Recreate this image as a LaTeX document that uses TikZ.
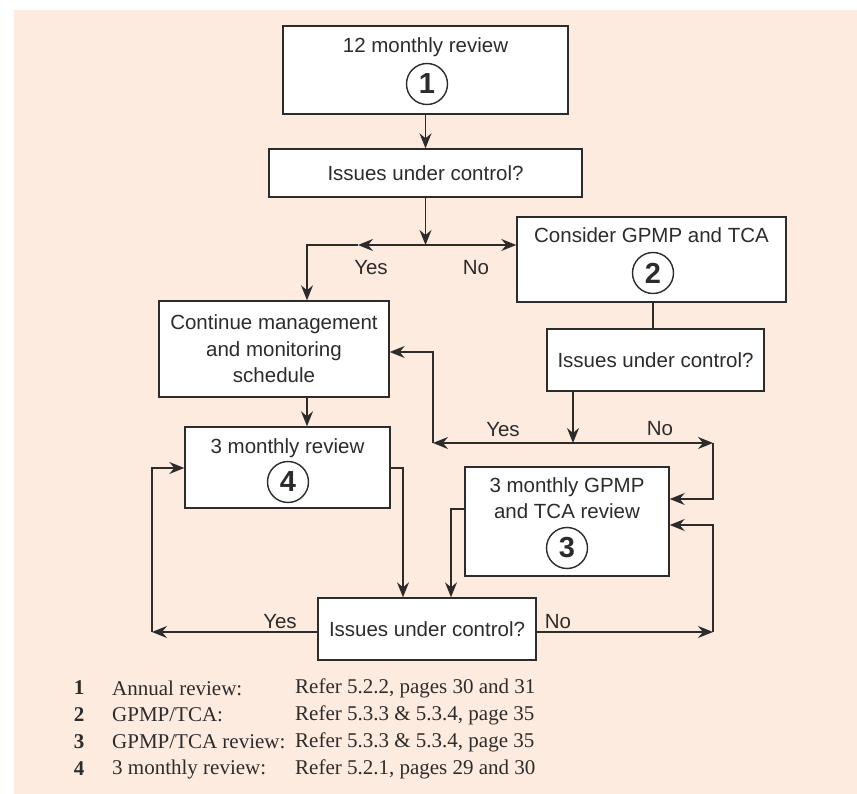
\documentclass[tikz,border=0pt]{standalone}
\usepackage{fontspec}
\setmainfont{Liberation Serif}
\setsansfont{Liberation Sans}
\usetikzlibrary{arrows.meta}
\definecolor{peach}{HTML}{FDEBDF}
\definecolor{ink}{HTML}{2E2B2B}

\begin{document}
\begin{tikzpicture}[x=1pt, y=-1pt,
    box/.style={draw=ink, fill=white, line width=1.4pt, inner sep=0pt},
    txt/.style={text=ink, align=center, inner sep=0pt, font=\sffamily\fontsize{20.5}{26.5}\selectfont},
    num/.style={circle, draw=ink, line width=1.4pt, minimum size=41pt, inner sep=0pt, text=ink, font=\sffamily\bfseries\fontsize{29}{29}\selectfont},
    arr/.style={draw=ink, line width=1.4pt, -{Stealth[length=15pt, width=12pt, inset=5pt]}},
    wire/.style={draw=ink, line width=1.4pt}]

    \useasboundingbox (0,0) rectangle (857,794);
    \fill[peach] (14,10) rectangle (857,794);

    % boxes
    \node[box, minimum width=285pt, minimum height=88pt] (rev12) at (425.5,70) {};
    \node[txt] (rev12t) at (425.5,47) {12 monthly review};
    \node[num] (n1) at (427,84) {1};

    \node[box, txt, minimum width=313pt, minimum height=48pt] (q1) at (425.5,173) {Issues under control?};

    \node[box, minimum width=269pt, minimum height=85pt] (plan) at (651.5,259.5) {};
    \node[txt] (plant) at (651.5,235) {Consider GPMP and TCA};
    \node[num] (n2) at (653,273) {2};

    \node[box, txt, minimum width=217pt, minimum height=62pt] (q2) at (655.5,360) {Issues under control?};

    \node[box, txt, minimum width=230pt, minimum height=96pt] (cont) at (274,349) {Continue management\\and monitoring\\schedule};

    \node[box, minimum width=205pt, minimum height=81pt] (rev3) at (287.5,467.5) {};
    \node[txt] (rev3t) at (287.5,448) {3 monthly review};
    \node[num] (n4) at (288,482) {4};

    \node[box, minimum width=204pt, minimum height=109pt] (planrev) at (567,521.5) {};
    \node[txt] (planrevt) at (567,498) {3 monthly GPMP\\and TCA review};
    \node[num] (n3) at (567,548) {3};

    \node[box, txt, minimum width=218pt, minimum height=62pt] (q3) at (427,629) {Issues under control?};

    % turning points
    \coordinate (j1) at (425.5,245);
    \coordinate (m1) at (358,245);
    \coordinate (c1) at (307,245);
    \coordinate (p2) at (653,300);
    \coordinate (j2) at (573,443);
    \coordinate (y2) at (433,443);
    \coordinate (y2t) at (433,352);
    \coordinate (n2b) at (713,443);
    \coordinate (n2t) at (713,499);
    \coordinate (r4) at (403,468);
    \coordinate (l3) at (451,509);
    \coordinate (yl) at (152,632);
    \coordinate (yl2) at (152,468);
    \coordinate (nl) at (713,632);
    \coordinate (nl2) at (713,525);

    % connectors
    \draw[arr] (rev12) -- (q1);
    \draw[arr] (q1.south) -- (j1);
    \draw[arr] (j1) -- (j1 -| plan.west);
    \draw[arr] (j1) -- (m1);
    \draw[arr] (m1) -- (c1) -- (c1 |- cont.north);
    \draw[wire] (p2 |- plan.south) -- (p2 |- q2.north);
    \draw[arr] (j2 |- q2.south) -- (j2);
    \draw[arr] (j2) -- (y2);
    \draw[arr] (y2) -- (y2t) -- (y2t -| cont.east);
    \draw[arr] (j2) -- (n2b);
    \draw[arr] (n2b) -- (n2t) -- (n2t -| planrev.east);
    \draw[arr] (c1 |- cont.south) -- (c1 |- rev3.north);
    \draw[arr] (r4 -| rev3.east) -- (r4) -- (r4 |- q3.north);
    \draw[arr] (l3 -| planrev.west) -- (l3) -- (l3 |- q3.north);
    \draw[arr] (yl -| q3.west) -- (yl);
    \draw[arr] (yl) -- (yl2) -- (yl2 -| rev3.west);
    \draw[arr] (nl -| q3.east) -- (nl);
    \draw[arr] (nl) -- (nl2) -- (nl2 -| planrev.east);

    % labels
    \node[txt] (yes1) at (371,268) {Yes};
    \node[txt] (no1) at (476,268) {No};
    \node[txt] (yes2) at (503,430) {Yes};
    \node[txt] (no2) at (660,429) {No};
    \node[txt] (yes3) at (280,622) {Yes};
    \node[txt] (no3) at (558,622) {No};

    % key
    \foreach \i/\what/\where [count=\k from 0] in {
        1/{Annual review:}/{Refer 5.2.2, pages 30 and 31},
        2/{GPMP/TCA:}/{Refer 5.3.3 \& 5.3.4, page 35},
        3/{GPMP/TCA review:}/{Refer 5.3.3 \& 5.3.4, page 35},
        4/{3 monthly review:}/{Refer 5.2.1, pages 29 and 30}} {%
        \node[text=ink, font=\bfseries\fontsize{21}{21}\selectfont] (k\i) at (79,688+27*\k) {\i};
        \node[anchor=west, inner sep=0pt, text=ink, font=\fontsize{21}{21}\selectfont] (kw\i) at (112,688+27*\k) {\what};
        \node[anchor=west, inner sep=0pt, text=ink, font=\fontsize{21}{21}\selectfont] (kr\i) at (295,688+27*\k) {\where};
    }

\end{tikzpicture}
\end{document}
